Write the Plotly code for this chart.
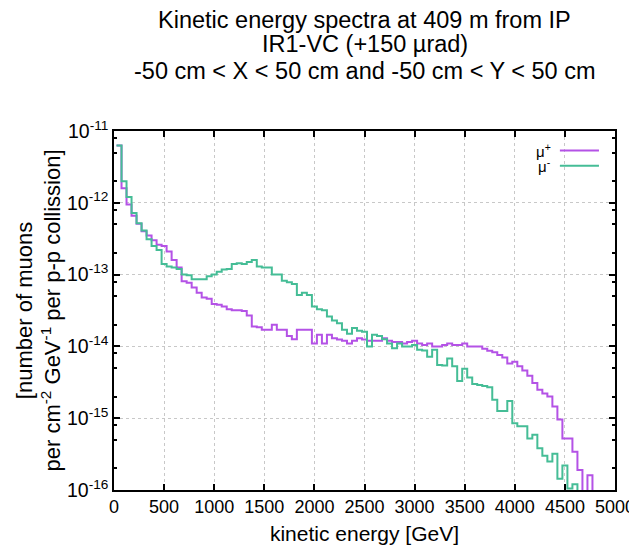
import plotly.graph_objects as go

# Bin width 50 GeV, first bin starts at 25 GeV
bin_width = 50
first_edge = 25

# mu+ spectrum, one value per bin (0 = empty bin)
mu_plus = [
    6.3e-12, 1.6e-12, 9.5e-13, 6.6e-13, 5.1e-13, 4.0e-13, 3.5e-13, 3.0e-13, 2.6e-13, 2.5e-13,
    2.1e-13, 1.6e-13, 1.26e-13, 8.1e-14, 7.7e-14, 6.6e-14, 5.6e-14, 4.8e-14, 4.6e-14, 3.9e-14,
    3.8e-14, 3.6e-14, 3.3e-14, 3.2e-14, 3.2e-14, 3.1e-14, 2.7e-14, 1.9e-14, 1.85e-14, 1.7e-14,
    1.7e-14, 2.0e-14, 1.7e-14, 1.7e-14, 1.4e-14, 1.26e-14, 1.7e-14, 1.7e-14, 1.7e-14, 1.1e-14,
    1.45e-14, 1.1e-14, 1.45e-14, 1.3e-14, 1.25e-14, 1.2e-14, 1.1e-14, 1.2e-14, 1.3e-14, 1.25e-14,
    1.2e-14, 1.2e-14, 1.2e-14, 1.3e-14, 1.2e-14, 1.15e-14, 1.15e-14, 1.1e-14, 1.15e-14, 1.2e-14,
    1.1e-14, 1.05e-14, 1.1e-14, 1.0e-14, 1.0e-14, 1.05e-14, 1.1e-14, 1.05e-14, 1.05e-14, 1.1e-14,
    1.0e-14, 1.0e-14, 1.0e-14, 9.3e-15, 8.7e-15, 8.3e-15, 7.6e-15, 7.0e-15, 5.8e-15, 6.1e-15,
    5.3e-15, 4.6e-15, 3.9e-15, 3.1e-15, 2.5e-15, 2.2e-15, 2.0e-15, 1.45e-15, 9.6e-16, 5.2e-16,
    5.2e-16, 3.4e-16, 1.9e-16, 0, 1.6e-16, 0,
]

# mu- spectrum
mu_minus = [
    6.3e-12, 2.0e-12, 1.2e-12, 7.2e-13, 5.2e-13, 4.1e-13, 3.1e-13, 2.5e-13, 2.2e-13, 1.4e-13,
    1.3e-13, 1.26e-13, 1.2e-13, 1.0e-13, 9.8e-14, 8.6e-14, 8.6e-14, 8.6e-14, 9.5e-14, 1.0e-13,
    1.1e-13, 1.18e-13, 1.2e-13, 1.4e-13, 1.44e-13, 1.4e-13, 1.5e-13, 1.6e-13, 1.3e-13, 1.26e-13,
    1.26e-13, 1.0e-13, 1.0e-13, 8.2e-14, 7.8e-14, 7.4e-14, 5.2e-14, 5.6e-14, 5.2e-14, 3.6e-14,
    3.3e-14, 3.2e-14, 2.6e-14, 2.3e-14, 2.1e-14, 1.7e-14, 1.5e-14, 1.8e-14, 1.65e-14, 1.6e-14,
    1.0e-14, 1.45e-14, 1.4e-14, 1.26e-14, 1.1e-14, 9.4e-15, 1.1e-14, 1.0e-14, 1.0e-14, 1.05e-14,
    9.0e-15, 8.8e-15, 7.2e-15, 9.0e-15, 5.5e-15, 5.4e-15, 6.8e-15, 5.3e-15, 3.3e-15, 4.9e-15,
    3.7e-15, 3.0e-15, 2.9e-15, 2.8e-15, 2.7e-15, 1.8e-15, 1.26e-15, 1.26e-15, 1.74e-15, 8.5e-16,
    7.7e-16, 7.7e-16, 5.2e-16, 5.9e-16, 3.8e-16, 3.0e-16, 2.5e-16, 3.2e-16, 1.44e-16, 2.2e-16,
    1.05e-16, 1.2e-16, 0,
]

series_names = ["μ<sup>+</sup>", "μ<sup>-</sup>"]
series_colors = ["#b452e6", "#45bd96"]

x_ticks = [0, 500, 1000, 1500, 2000, 2500, 3000, 3500, 4000, 4500, 5000]
y_major = [1e-16, 1e-15, 1e-14, 1e-13, 1e-12, 1e-11]
y_labels = ["10<sup>-16</sup>", "10<sup>-15</sup>", "10<sup>-14</sup>",
            "10<sup>-13</sup>", "10<sup>-12</sup>", "10<sup>-11</sup>"]
y_minor = [m * d for d in y_major[:-1] for m in (2, 5, 8)]

title_lines = ["Kinetic energy spectra at 409 m from IP",
               "IR1-VC (+150 µrad)",
               "-50 cm &lt; X &lt; 50 cm and -50 cm &lt; Y &lt; 50 cm"]

FLOOR = 1e-20  # empty bins drawn below the axis, like gnuplot does


def step_xy(values):
    edges = [first_edge + bin_width * i for i in range(len(values) + 1)]
    ys = [v if v > 0 else FLOOR for v in values]
    return edges, ys + [ys[-1]]


font = "Liberation Sans, Arial, sans-serif"

fig = go.Figure()
for name, vals, color in zip(series_names, [mu_plus, mu_minus], series_colors):
    xs, ys = step_xy(vals)
    fig.add_trace(go.Scatter(x=xs, y=ys, mode="lines", name=name, showlegend=False,
                             line=dict(shape="hv", color=color, width=2)))

axis_common = dict(
    showline=True, linecolor="black", linewidth=1.5, mirror="ticks",
    ticks="inside", tickcolor="black", ticklen=6, tickwidth=1.5,
    showgrid=True, gridcolor="#c8c8c8", griddash="dot", gridwidth=1,
    zeroline=False, automargin=False,
)

# three title lines, each as its own annotation above the plot
title_y = [1.308, 1.243, 1.168]
annotations = [dict(text=t, x=0.5, y=y, xref="paper", yref="paper", showarrow=False,
                    xanchor="center", yanchor="middle",
                    font=dict(size=23.5, family=font, color="black"))
               for t, y in zip(title_lines, title_y)]

# gnuplot-style key: label on the left, line sample on the right
key_y = [0.946, 0.903]
shapes = []
for name, color, ky in zip(series_names, series_colors, key_y):
    annotations.append(dict(text=name, x=0.876, y=ky, xref="paper", yref="paper",
                            showarrow=False, xanchor="right", yanchor="middle",
                            font=dict(size=15, family=font, color="black")))
    shapes.append(dict(type="line", xref="paper", yref="paper", x0=0.89, x1=0.968,
                       y0=ky, y1=ky, line=dict(color=color, width=2)))

# the page body adds an 8px offset, so the figure is 8px smaller each way
fig.update_layout(
    width=629, height=539,
    paper_bgcolor="white", plot_bgcolor="white",
    margin=dict(l=106, r=22, t=123, b=57),
    font=dict(family=font, color="black"),
    annotations=annotations,
    shapes=shapes,
    xaxis=dict(
        range=[0, 5000], tickvals=x_ticks,
        tickfont=dict(size=18, color="black", family=font),
        title=dict(text="kinetic energy [GeV]", font=dict(size=21), standoff=10),
        **axis_common,
    ),
    yaxis=dict(
        type="log", range=[-16, -11], tickvals=y_major, ticktext=y_labels,
        tickfont=dict(size=19.5, color="black", family=font),
        minor=dict(ticks="inside", ticklen=3, tickcolor="black", tickvals=y_minor, showgrid=False),
        title=dict(text="[number of muons<br>per cm<sup>-2</sup> GeV<sup>-1</sup> per p-p collission]",
                   font=dict(size=22), standoff=0),
        **axis_common,
    ),
)

fig.write_html("out.html")
